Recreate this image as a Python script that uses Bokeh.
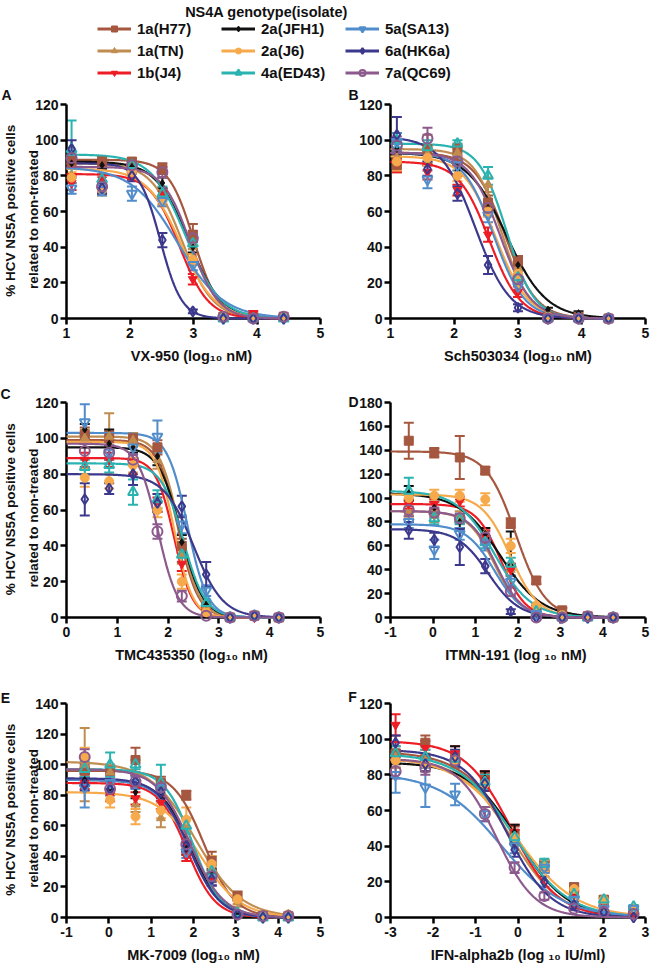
import numpy as np
from bokeh.plotting import figure
from bokeh.models import (ColumnDataSource, Whisker, TeeHead, FixedTicker, Label,
                          Legend, LegendItem)
from bokeh.core.properties import value
from bokeh.layouts import column, row
from bokeh.embed import file_html
from bokeh.resources import INLINE

FONT = "Liberation Sans"

# ---------------- series definitions ----------------
genotypes = ["1a(H77)", "1a(TN)", "1b(J4)", "2a(JFH1)", "2a(J6)",
             "4a(ED43)", "5a(SA13)", "6a(HK6a)", "7a(QC69)"]
colors = ["#A5573F", "#C08C50", "#EE1C25", "#111111", "#F7AA4C",
          "#2AB3B1", "#528DCB", "#3C388C", "#8C5A8C"]
markers = ["square", "triangle", "inverted_triangle", "diamond", "circle",
           "triangle", "inverted_triangle", "diamond", "circle"]
hollow = [False, False, False, False, False, True, True, True, True]
legend_title = "NS4A genotype(isolate)"
y_label_1 = "% HCV NS5A positive cells"
y_label_2 = "related to non-treated"

# ---------------- panel A : VX-950 ----------------
A_xlabel = "VX-950  (log\u2081\u2080 nM)"
A_conc = [1.08, 1.56, 2.03, 2.51, 2.99, 3.47, 3.94, 4.42]
A_mean = [[88, 88, 88, 84, 47, 1, 1, 1],
          [80, 73, 84, 68, 40, 1, 0, 0],
          [76, 78, 80, 70, 22, 1, 3, 0],
          [87, 86, 85, 76, 40, 1, 0, 0],
          [79, 72, 82, 66, 33, 1, 0, 1],
          [95, 78, 86, 70, 42, 0, 0, 0],
          [73, 72, 70, 66, 30, 0, 0, 0],
          [95, 73, 80, 44, 4, 0, 0, 0],
          [90, 74, 86, 82, 45, 1, 0, 1]]
A_err = [[3, 3, 2, 3, 6, 1, 1, 1],
         [4, 3, 3, 4, 4, 1, 1, 1],
         [4, 3, 2, 3, 3, 1, 1, 1],
         [3, 2, 3, 3, 3, 1, 1, 1],
         [3, 3, 3, 3, 3, 1, 1, 1],
         [16, 3, 2, 4, 3, 1, 1, 1],
         [3, 3, 4, 3, 3, 1, 1, 1],
         [5, 3, 3, 4, 1, 1, 1, 1],
         [3, 3, 2, 3, 4, 1, 1, 1]]
A_top = [89, 87, 81, 88, 84, 92, 85, 87, 85]
A_logic50 = [3.0, 2.82, 2.78, 2.92, 2.8, 2.88, 2.75, 2.48, 2.95]
A_hill = [2.2, 1.8, 1.9, 1.7, 1.6, 1.6, 1.2, 2.6, 2.0]

# ---------------- panel B : Sch503034 ----------------
B_xlabel = "Sch503034 (log\u2081\u2080 nM)"
B_conc = [1.1, 1.58, 2.05, 2.53, 3.0, 3.47, 3.95, 4.42]
B_mean = [[86, 95, 95, 65, 32, 1, 1, 0],
          [90, 92, 93, 75, 28, 1, 0, 0],
          [88, 82, 72, 47, 15, 0, 0, 0],
          [95, 90, 83, 62, 30, 5, 3, 0],
          [88, 90, 80, 60, 25, 1, 0, 0],
          [100, 96, 98, 80, 23, 0, 0, 0],
          [99, 78, 86, 58, 18, 0, 0, 0],
          [103, 84, 70, 30, 6, 0, 0, 0],
          [97, 101, 88, 62, 22, 0, 0, 0]]
B_err = [[4, 8, 3, 4, 3, 1, 1, 1],
         [4, 4, 3, 4, 3, 1, 1, 1],
         [6, 4, 3, 4, 3, 1, 1, 1],
         [4, 4, 3, 3, 3, 1, 1, 1],
         [5, 4, 3, 3, 3, 1, 1, 1],
         [4, 4, 2, 5, 4, 1, 1, 1],
         [5, 5, 3, 4, 3, 1, 1, 1],
         [10, 4, 4, 5, 2, 1, 1, 1],
         [5, 6, 3, 4, 3, 1, 1, 1]]
B_top = [93, 95, 88, 93, 91, 98, 93, 102, 93]
B_logic50 = [2.8, 2.75, 2.55, 2.82, 2.65, 2.82, 2.62, 2.33, 2.72]
B_hill = [1.8, 2.0, 1.8, 1.4, 1.7, 2.0, 1.8, 1.6, 1.8]

# ---------------- panel C : TMC435350 ----------------
C_xlabel = "TMC435350  (log\u2081\u2080 nM)"
C_conc = [0.36, 0.84, 1.31, 1.79, 2.27, 2.75, 3.22, 3.70, 4.18]
C_mean = [[102, 100, 100, 95, 40, 5, 0, 1, 0],
          [100, 101, 99, 88, 35, 6, 0, 1, 0],
          [88, 88, 84, 63, 30, 3, 0, 0, 0],
          [105, 97, 95, 90, 42, 7, 0, 1, 0],
          [78, 76, 85, 60, 20, 3, 0, 1, 0],
          [84, 85, 70, 66, 35, 8, 0, 1, 0],
          [109, 92, 95, 101, 52, 15, 0, 1, 0],
          [66, 72, 80, 64, 62, 24, 0, 1, 0],
          [93, 92, 88, 48, 12, 1, 0, 1, 0]]
C_err = [[4, 4, 3, 4, 4, 2, 1, 1, 1],
         [5, 13, 4, 5, 5, 2, 1, 1, 1],
         [4, 4, 4, 4, 4, 1, 1, 1, 1],
         [3, 8, 3, 5, 4, 2, 1, 1, 1],
         [5, 4, 4, 4, 4, 1, 1, 1, 1],
         [4, 4, 7, 5, 4, 2, 1, 1, 1],
         [10, 6, 4, 9, 5, 3, 1, 1, 1],
         [9, 3, 6, 5, 6, 7, 1, 1, 1],
         [4, 4, 3, 4, 3, 1, 1, 1, 1]]
C_top = [99, 101, 89, 95, 98, 86, 103, 80, 97]
C_logic50 = [2.2, 2.22, 2.12, 2.25, 2.12, 2.3, 2.38, 2.5, 1.8]
C_hill = [2.2, 2.2, 2.4, 2.0, 2.4, 2.0, 2.2, 1.5, 2.2]

# ---------------- panel D : ITMN-191 ----------------
D_xlabel = "ITMN-191  (log \u2081\u2080 nM)"
D_conc = [-0.57, 0.03, 0.63, 1.23, 1.83, 2.43, 3.04, 3.64, 4.24]
D_mean = [[148, 138, 134, 123, 79, 31, 6, 1, 0],
          [88, 85, 85, 70, 40, 5, 0, 0, 0],
          [95, 95, 97, 68, 40, 5, 1, 0, 0],
          [104, 92, 80, 70, 58, 8, 3, 1, 0],
          [100, 102, 102, 99, 60, 10, 2, 0, 0],
          [106, 83, 82, 63, 45, 5, 0, 0, 0],
          [80, 57, 70, 62, 30, 3, 0, 0, 0],
          [73, 65, 59, 43, 5, 0, 0, 0, 0],
          [90, 88, 83, 67, 22, 0, 0, 1, 0]]
D_err = [[15, 4, 18, 3, 4, 3, 2, 1, 1],
         [5, 5, 4, 5, 5, 2, 1, 1, 1],
         [4, 4, 4, 5, 5, 2, 1, 1, 1],
         [6, 5, 5, 5, 14, 2, 1, 1, 1],
         [5, 5, 5, 5, 6, 2, 1, 1, 1],
         [11, 5, 4, 5, 5, 2, 1, 1, 1],
         [5, 8, 5, 6, 5, 1, 1, 1, 1],
         [7, 6, 15, 6, 2, 1, 1, 1, 1],
         [5, 4, 4, 5, 4, 1, 1, 1, 1]]
D_top = [139, 89, 95, 104, 103, 106, 78, 74, 89]
D_logic50 = [1.95, 1.45, 1.6, 1.58, 1.82, 1.45, 1.45, 1.3, 1.48]
D_hill = [1.25, 1.4, 1.5, 0.9, 1.3, 1.0, 1.3, 1.2, 1.4]

# ---------------- panel E : MK-7009 ----------------
E_xlabel = "MK-7009 (log\u2081\u2080 nM)"
E_conc = [-0.57, 0.03, 0.63, 1.23, 1.83, 2.43, 3.04, 3.64, 4.24]
E_mean = [[96, 96, 103, 88, 80, 37, 14, 1, 1],
          [100, 95, 74, 65, 60, 35, 10, 1, 2],
          [88, 80, 78, 75, 40, 25, 2, 0, 0],
          [90, 85, 82, 80, 45, 28, 2, 0, 0],
          [105, 77, 66, 70, 64, 35, 12, 1, 2],
          [97, 100, 100, 88, 60, 30, 3, 0, 0],
          [85, 88, 88, 85, 43, 25, 2, 0, 0],
          [87, 84, 89, 82, 47, 25, 2, 0, 0],
          [105, 84, 89, 85, 48, 27, 2, 1, 1]]
E_err = [[5, 4, 8, 4, 3, 6, 3, 1, 1],
         [24, 5, 5, 6, 5, 5, 3, 1, 1],
         [4, 4, 4, 4, 3, 4, 1, 1, 1],
         [4, 4, 4, 4, 4, 4, 1, 1, 1],
         [6, 5, 5, 5, 8, 5, 3, 1, 1],
         [5, 8, 3, 12, 5, 4, 1, 1, 1],
         [13, 5, 4, 4, 4, 4, 1, 1, 1],
         [4, 4, 4, 4, 4, 4, 1, 1, 1],
         [5, 4, 4, 4, 4, 4, 1, 1, 1]]
E_top = [96, 102, 88, 90, 82, 97, 90, 91, 97]
E_logic50 = [2.25, 2.05, 1.85, 1.95, 2.15, 1.98, 1.9, 1.9, 1.92]
E_hill = [1.2, 0.8, 1.3, 1.2, 0.9, 1.3, 1.2, 1.2, 1.1]

# ---------------- panel F : IFN-alpha2b ----------------
F_xlabel = "IFN-alpha2b (log \u2081\u2080 IU/ml)"
F_conc = [-2.88, -2.18, -1.48, -0.78, -0.08, 0.62, 1.32, 2.02, 2.72]
F_mean = [[92, 98, 89, 77, 47, 29, 17, 10, 4],
          [90, 88, 88, 75, 45, 28, 14, 9, 4],
          [108, 95, 92, 77, 48, 28, 13, 8, 3],
          [88, 86, 91, 78, 48, 29, 15, 9, 4],
          [88, 86, 88, 75, 45, 29, 16, 10, 5],
          [92, 90, 89, 76, 45, 30, 13, 10, 6],
          [80, 73, 69, 58, 40, 28, 10, 5, 5],
          [98, 86, 90, 75, 38, 20, 7, 3, 0],
          [82, 84, 88, 58, 28, 12, 5, 3, 2]]
F_err = [[4, 4, 4, 4, 4, 3, 2, 2, 1],
         [4, 4, 4, 4, 4, 3, 2, 2, 1],
         [6, 4, 4, 5, 4, 3, 2, 2, 1],
         [4, 4, 5, 4, 4, 3, 2, 2, 1],
         [4, 4, 4, 4, 4, 3, 2, 2, 1],
         [4, 4, 4, 4, 4, 3, 2, 2, 1],
         [10, 11, 6, 4, 4, 3, 2, 2, 1],
         [4, 4, 4, 4, 4, 3, 2, 1, 1],
         [4, 4, 4, 4, 3, 2, 1, 1, 1]]
F_top = [93, 89, 99, 87, 90, 92, 81, 94, 89]
F_logic50 = [-0.1, -0.15, -0.15, 0.0, -0.05, -0.1, -0.4, -0.25, -0.5]
F_hill = [0.7, 0.75, 0.8, 0.75, 0.62, 0.68, 0.6, 0.85, 0.95]

# ---------------- helpers ----------------
FIG_W = 325


def style_axes(p, xticks, yticks):
    p.xaxis.ticker = FixedTicker(ticks=xticks)
    p.yaxis.ticker = FixedTicker(ticks=yticks)
    p.xaxis.major_label_overrides = {t: str(t) for t in xticks if t < 0}
    for ax in p.axis:
        ax.axis_line_width = 2.5
        ax.axis_line_color = "black"
        ax.major_tick_line_width = 2.5
        ax.major_tick_out = 6
        ax.major_tick_in = 0
        ax.minor_tick_line_color = None
        ax.major_label_text_font = FONT
        ax.major_label_text_font_style = "bold"
        ax.major_label_text_font_size = "14px"
        ax.major_label_text_color = "#111111"
        ax.axis_label_text_font = FONT
        ax.axis_label_text_font_style = "bold"
        ax.axis_label_text_font_size = "14.5px"
        ax.axis_label_text_color = "#111111"
    p.xaxis.major_label_standoff = 3
    p.yaxis.major_label_standoff = 2
    p.xaxis.axis_label_standoff = 7


def make_panel(letter, conc, mean, err, top, logic50, hill, xlabel,
               xr, xticks, yr, yticks, left, height, btop, bbottom,
               letter_dx, letter_dy):
    bl = 66 if left else 65
    br = 5
    fw = FIG_W - bl - br
    fh = height - btop - bbottom
    p = figure(width=FIG_W, height=height, x_range=xr, y_range=yr,
               toolbar_location=None, output_backend="svg",
               min_border_left=bl, min_border_right=br,
               min_border_top=btop, min_border_bottom=bbottom)
    p.grid.visible = False
    p.outline_line_color = None
    p.background_fill_color = "white"
    p.border_fill_color = "white"
    style_axes(p, xticks, yticks)
    p.xaxis.axis_label = xlabel

    # pixel -> data helpers (relative to frame left / frame bottom)
    xpx = (xr[1] - xr[0]) / fw
    ypx = (yr[1] - yr[0]) / fh

    for i in range(len(genotypes)):
        c = colors[i]
        m = np.array(mean[i], dtype=float)
        e = np.array(err[i], dtype=float)
        src = ColumnDataSource(dict(x=conc, y=m,
                                    upper=m + e,
                                    lower=np.maximum(m - e, 0)))
        w = Whisker(base="x", upper="upper", lower="lower", source=src,
                    dimension="height", line_color=c, line_width=2,
                    upper_head=TeeHead(size=10, line_color=c, line_width=2),
                    lower_head=TeeHead(size=10, line_color=c, line_width=2))
        p.add_layout(w)
        xs = np.linspace(xr[0], conc[-1] + 0.03, 300)
        ys = top[i] / (1.0 + 10.0 ** (hill[i] * (xs - logic50[i])))
        p.line(xs, ys, line_color=c, line_width=2.2, level="overlay")
    for i in range(len(genotypes)):
        c = colors[i]
        if hollow[i]:
            p.scatter(conc, mean[i], marker=markers[i], size=10,
                      line_color=c, line_width=2, fill_alpha=0,
                      level="overlay")
        else:
            sz = 7 if markers[i] == "diamond" else 9
            p.scatter(conc, mean[i], marker=markers[i], size=sz,
                      line_color=c, fill_color=c, line_width=1,
                      level="overlay")

    # panel letter (outside the frame, unclipped overlay text)
    p.text(x=[xr[0] + letter_dx * xpx], y=[yr[1] + letter_dy * ypx], text=[letter],
           text_font=value(FONT), text_font_size="14px", text_font_style="bold",
           text_align="center", text_baseline="middle", text_color="#111111",
           level="overlay")
    if left:
        ymid = (yr[0] + yr[1]) / 2
        p.text(x=[xr[0] - 56 * xpx, xr[0] - 33 * xpx],
               y=[ymid + 1 * ypx, ymid - 8 * ypx],
               text=[y_label_1, y_label_2], angle=np.pi / 2,
               text_font=value(FONT), text_font_size="13.5px",
               text_font_style="bold", text_align="center",
               text_baseline="middle", text_color="#111111", level="overlay")
    return p


# ---------------- legend figure ----------------
LEG_H = 86
leg = figure(width=650, height=LEG_H, x_range=(0, 1), y_range=(0, 1),
             toolbar_location=None, output_backend="svg", min_border=0,
             x_axis_location=None, y_axis_location=None)
leg.grid.visible = False
leg.outline_line_color = None
items = []
for i, name in enumerate(genotypes):
    r1 = leg.line([-5, -4], [-5, -4], line_color=colors[i], line_width=3)
    if hollow[i]:
        r2 = leg.scatter([-5], [-5], marker=markers[i], size=10, line_color=colors[i],
                         line_width=2, fill_alpha=0)
    else:
        r2 = leg.scatter([-5], [-5], marker=markers[i],
                         size=8 if markers[i] == "diamond" else 10,
                         line_color=colors[i], fill_color=colors[i])
    items.append(LegendItem(label=name, renderers=[r1, r2]))
legend = Legend(items=items, ncols=3, location=(97, 5),
                label_text_font=FONT, label_text_font_style="bold",
                label_text_font_size="15px", label_text_color="#111111",
                glyph_width=34, glyph_height=15, label_height=15,
                label_width=79, label_standoff=6, spacing=5,
                padding=0, margin=0, border_line_alpha=0,
                background_fill_alpha=0)
leg.add_layout(legend, "center")
leg.add_layout(Label(x=266, y=LEG_H - 11, x_units="screen", y_units="screen",
                     text=legend_title, text_font=FONT, text_font_size="14.5px",
                     text_font_style="bold", text_align="center",
                     text_baseline="middle", text_color="#111111"))

# ---------------- panels ----------------
y120 = list(range(0, 121, 20))
pA = make_panel("A", A_conc, A_mean, A_err, A_top, A_logic50, A_hill, A_xlabel,
                (1, 5), [1, 2, 3, 4, 5], (0, 120), y120, True, 300, 18, 68, -60, 10)
pB = make_panel("B", B_conc, B_mean, B_err, B_top, B_logic50, B_hill, B_xlabel,
                (1, 5), [1, 2, 3, 4, 5], (0, 120), y120, False, 300, 18, 68, -37, 10)
pC = make_panel("C", C_conc, C_mean, C_err, C_top, C_logic50, C_hill, C_xlabel,
                (0, 5), [0, 1, 2, 3, 4, 5], (0, 120), y120, True, 300, 16, 69, -61, 9)
pD = make_panel("D", D_conc, D_mean, D_err, D_top, D_logic50, D_hill, D_xlabel,
                (-1, 5), [-1, 0, 1, 2, 3, 4, 5], (0, 180), list(range(0, 181, 20)),
                False, 300, 16, 69, -37, 1)
pE = make_panel("E", E_conc, E_mean, E_err, E_top, E_logic50, E_hill, E_xlabel,
                (-1, 5), [-1, 0, 1, 2, 3, 4, 5], (0, 140), list(range(0, 141, 20)),
                True, 279, 17, 47, -61, 6)
pF = make_panel("F", F_conc, F_mean, F_err, F_top, F_logic50, F_hill, F_xlabel,
                (-3, 3), [-3, -2, -1, 0, 1, 2, 3], (0, 120), y120,
                False, 279, 17, 47, -38, 7)

layout = column(leg, row(pA, pB), row(pC, pD), row(pE, pF))
open("out.html", "w").write(file_html(layout, INLINE))
